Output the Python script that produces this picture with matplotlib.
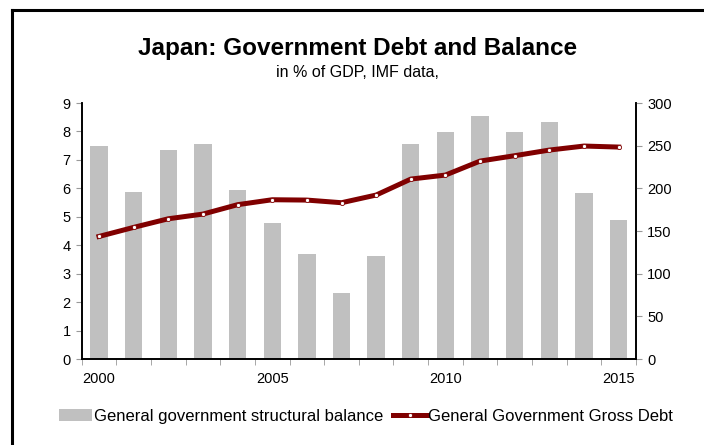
import numpy as np
import matplotlib.pyplot as plt
from matplotlib.lines import Line2D

plt.rcParams['font.family'] = ['Liberation Sans', 'DejaVu Sans']

# data
years = list(range(2000, 2016))
balance = [7.48, 5.86, 7.35, 7.55, 5.95, 4.77, 3.69, 2.32,
           3.63, 7.55, 7.99, 8.53, 7.97, 8.33, 5.84, 4.90]
debt = [143.7, 154.3, 164.4, 169.9, 180.9, 186.7, 186.3, 183.2,
        192.2, 210.9, 215.6, 232.0, 238.3, 244.9, 249.6, 248.4]
year_labels = [2000, 2005, 2010, 2015]

fig = plt.figure(figsize=(7.04, 4.45), dpi=100)
ax = fig.add_axes([0.116, 0.193, 0.7874, 0.5755])
ax2 = ax.twinx()

x = np.arange(len(years))
ax.bar(x, balance, width=0.5, color='#c0c0c0', zorder=2,
       label='General government structural balance')
ax2.plot(x, debt, '-', color='#800000', linewidth=3.6, marker='o',
         markersize=3, markerfacecolor='white', markeredgecolor='#800000',
         markeredgewidth=0.6, label='General Government Gross Debt')

ax.set_xlim(-0.5, len(years) - 0.5)
ax.set_ylim(0, 9)
ax2.set_ylim(0, 300)
ax.set_yticks(range(0, 10))
ax2.set_yticks(range(0, 301, 50))

# category ticks at boundaries, labels only every 5 years
ax.set_xticks(np.arange(-0.5, len(years)), minor=True)
ax.set_xticks([years.index(y) for y in year_labels])
ax.set_xticklabels([str(y) for y in year_labels])
ax.tick_params(axis='x', which='major', length=0, pad=9, labelsize=10.5)
ax.tick_params(axis='x', which='minor', length=4, color='#999999')
ax.tick_params(axis='y', length=4, color='#999999', labelsize=10.5, pad=4)
ax2.tick_params(axis='y', length=4, color='#999999', labelsize=10.5, pad=4)

for a in (ax, ax2):
    a.spines['top'].set_visible(False)
    for s in ('left', 'right', 'bottom'):
        a.spines[s].set_linewidth(1.2)

fig.text(0.508, 0.892, 'Japan: Government Debt and Balance',
         ha='center', va='center', fontsize=17.5, fontweight='bold')
fig.text(0.508, 0.836, 'in % of GDP, IMF data,', ha='center', va='center',
         fontsize=11.5)

h1, l1 = ax.get_legend_handles_labels()
h2, l2 = ax2.get_legend_handles_labels()
fig.legend(h1 + h2, l1 + l2, loc='center', bbox_to_anchor=(0.52, 0.064),
           ncol=2, frameon=False, fontsize=12, handlelength=2.0,
           handletextpad=0.1, columnspacing=0.6)

# partial frame around the chart
fig.add_artist(Line2D([0.017, 0.017], [0.0, 0.978], color='black', linewidth=2.2))
fig.add_artist(Line2D([0.017, 1.0], [0.978, 0.978], color='black', linewidth=2.2))

fig.savefig('out.png', dpi=100)
